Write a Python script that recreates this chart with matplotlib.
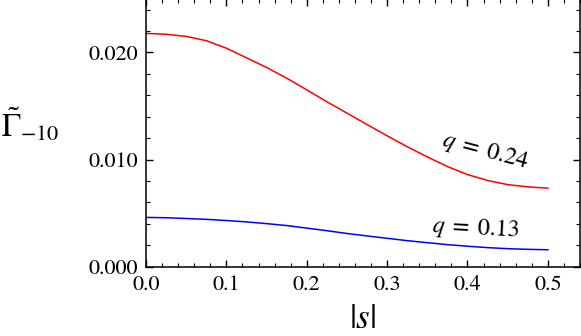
import matplotlib
matplotlib.use('Agg')
import matplotlib.pyplot as plt
from matplotlib.ticker import MultipleLocator, FormatStrFormatter

plt.rcParams.update({'font.family': 'STIXGeneral', 'mathtext.fontset': 'stix', 'font.size': 12})

s = [0.0, 0.025, 0.05, 0.075, 0.1, 0.125, 0.15, 0.175, 0.2, 0.225, 0.25,
     0.275, 0.3, 0.325, 0.35, 0.375, 0.4, 0.425, 0.45, 0.475, 0.5]
gamma_q024 = [0.02178, 0.0217, 0.0215, 0.0211, 0.0204, 0.0195, 0.0186, 0.0176, 0.01651, 0.0154, 0.01434,
              0.01327, 0.01222, 0.0112, 0.01025, 0.00935, 0.0086, 0.00805, 0.00766, 0.00745, 0.00733]
gamma_q013 = [0.00460, 0.00457, 0.00450, 0.00442, 0.00431, 0.00418, 0.00402, 0.00384, 0.00360, 0.00336, 0.00310,
              0.00287, 0.00265, 0.00243, 0.00224, 0.00206, 0.00191, 0.00178, 0.00168, 0.00162, 0.00158]

fig = plt.figure(figsize=(5.81, 3.36), dpi=100)
ax = fig.add_axes([0.2513, 0.2063, 0.747, 0.797])

ax.plot(s, gamma_q024, color='red', lw=1.1)
ax.plot(s, gamma_q013, color='blue', lw=1.1)

ax.set_xlim(0, 0.54)
ax.set_ylim(0, 0.025)
ax.xaxis.set_major_locator(MultipleLocator(0.1))
ax.xaxis.set_minor_locator(MultipleLocator(0.02))
ax.yaxis.set_major_locator(MultipleLocator(0.01))
ax.yaxis.set_minor_locator(MultipleLocator(0.002))
ax.xaxis.set_major_formatter(FormatStrFormatter('%.1f'))
ax.yaxis.set_major_formatter(FormatStrFormatter('%.3f'))
ax.tick_params(which='both', direction='in', top=True, right=True, labelsize=16)
ax.tick_params(which='major', length=5, width=1, pad=6)
ax.tick_params(which='minor', length=3, width=0.8)
for sp in ax.spines.values():
    sp.set_linewidth(1.1)

ax.set_xlabel(r'$|s|$', fontsize=25, labelpad=0)
ax.xaxis.set_label_coords(0.5, -0.14)
ax.set_ylabel(r'$\tilde{\Gamma}_{-10}$', fontsize=23, rotation=0, va='center', ha='left')
ax.yaxis.set_label_coords(-0.335, 0.53)

ax.text(0.4216, 0.01075, r'$q\;=\;\mathit{0.24}$', fontsize=17.5, rotation=-15, ha='center', va='center')
ax.text(0.41, 0.00352, r'$q\;=\;\mathit{0.13}$', fontsize=17.5, rotation=-3, ha='center', va='center')

fig.savefig('out.png', dpi=100)
